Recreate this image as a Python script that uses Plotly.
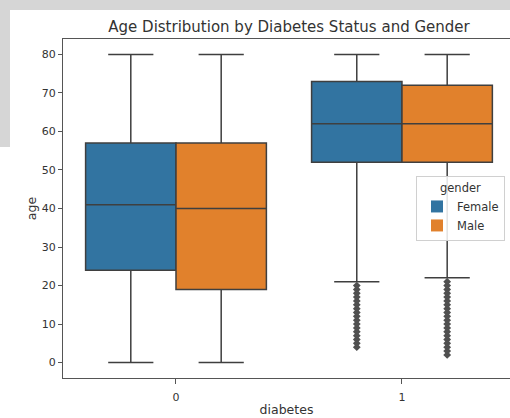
import plotly.graph_objects as go

# ---- data ----
diabetes_categories = [0, 1]
genders = ["Female", "Male"]
female_q1 = [24, 52]
female_median = [41, 62]
female_q3 = [57, 73]
female_lower = [0, 21]
female_upper = [80, 80]
male_q1 = [19, 52]
male_median = [40, 62]
male_q3 = [57, 72]
male_lower = [0, 22]
male_upper = [80, 80]
female_outliers_d1 = [4, 5, 6, 7, 8, 9, 10, 11, 12, 13, 14, 15, 16, 17, 18, 19, 20]
male_outliers_d1 = [2, 3, 4, 5, 6, 7, 8, 9, 10, 11, 12, 13, 14, 15, 16, 17, 18, 19, 20, 21]
y_ticks = [0, 10, 20, 30, 40, 50, 60, 70, 80]

colors = {"Female": "#3274a1", "Male": "#e1812c"}
edge = "#3f3f3f"
offset = {"Female": -0.2, "Male": 0.2}

fig = go.Figure()
stats = {
    "Female": (female_q1, female_median, female_q3, female_lower, female_upper),
    "Male": (male_q1, male_median, male_q3, male_lower, male_upper),
}
for g in genders:
    q1, med, q3, lo, hi = stats[g]
    for i, c in enumerate(diabetes_categories):
        fig.add_trace(go.Box(
            x=[c + offset[g]], q1=[q1[i]], median=[med[i]], q3=[q3[i]],
            lowerfence=[lo[i]], upperfence=[hi[i]],
            width=0.4, whiskerwidth=0.5, fillcolor=colors[g],
            line=dict(color=edge, width=1.5), boxpoints=False,
            showlegend=False, hoverinfo="skip",
        ))

for g, outs in (("Female", female_outliers_d1), ("Male", male_outliers_d1)):
    fig.add_trace(go.Scatter(
        x=[1 + offset[g]] * len(outs), y=outs, mode="markers",
        marker=dict(symbol="diamond", size=6, color="#505050", line=dict(width=0)),
        showlegend=False, hoverinfo="skip",
    ))

# legend entries
for g in genders:
    fig.add_trace(go.Scatter(
        x=[None], y=[None], mode="markers", name=g,
        marker=dict(symbol="square", size=10, color=colors[g], line=dict(width=0)),
    ))

L, R, T, B = 63, 510, 39, 378
W, H = 510, 418

def px(xp):
    return (xp - L) / (R - L)

def py(yp):
    return (B - yp) / (B - T)

shapes = [
    dict(type="rect", xref="paper", yref="paper", x0=px(0), x1=px(510), y0=py(10), y1=py(0),
         fillcolor="#d6d6d6", line=dict(width=0), layer="below"),
    dict(type="rect", xref="paper", yref="paper", x0=px(0), x1=px(10), y0=py(147), y1=py(0),
         fillcolor="#d6d6d6", line=dict(width=0), layer="below"),
]

fig.update_layout(
    width=W, height=H,
    margin=dict(l=L, r=W - R, t=T, b=H - B),
    paper_bgcolor="white", plot_bgcolor="white",
    font=dict(family="DejaVu Sans", size=11, color="#333333"),
    title=dict(text="Age Distribution by Diabetes Status and Gender",
               xref="container", x=289 / W, xanchor="center",
               yref="container", y=1 - 27 / H, yanchor="middle",
               font=dict(size=15, color="#333333")),
    shapes=shapes,
    showlegend=True,
    legend=dict(
        title=dict(text="gender", side="top center", font=dict(size=11.5)),
        x=px(416), y=py(176), xanchor="left", yanchor="top",
        bgcolor="rgba(255,255,255,0.85)", bordercolor="#d0d0d0", borderwidth=1,
        font=dict(size=11.5), itemsizing="constant", tracegroupgap=0,
    ),
    xaxis=dict(
        range=[-0.5, 1.478], tickvals=diabetes_categories,
        ticktext=[str(c) for c in diabetes_categories],
        showgrid=False, zeroline=False, showline=True, mirror=True,
        linecolor="#555555", linewidth=1, ticks="outside", ticklen=5,
        tickcolor="#555555", tickfont=dict(size=11), ticklabelstandoff=4,
        title=dict(text="diabetes", standoff=2, font=dict(size=12.5)),
    ),
    yaxis=dict(
        range=[-4, 84], tickvals=y_ticks, showgrid=False, zeroline=False,
        showline=True, mirror=True, linecolor="#555555", linewidth=1,
        ticks="outside", ticklen=4, tickcolor="#555555", tickfont=dict(size=11),
        title=dict(text="age", standoff=2, font=dict(size=12.5)),
    ),
)

fig.write_html(
    "out.html",
    config={"displayModeBar": False},
    post_script="document.body.style.margin='0px';document.body.style.overflow='hidden';",
)
